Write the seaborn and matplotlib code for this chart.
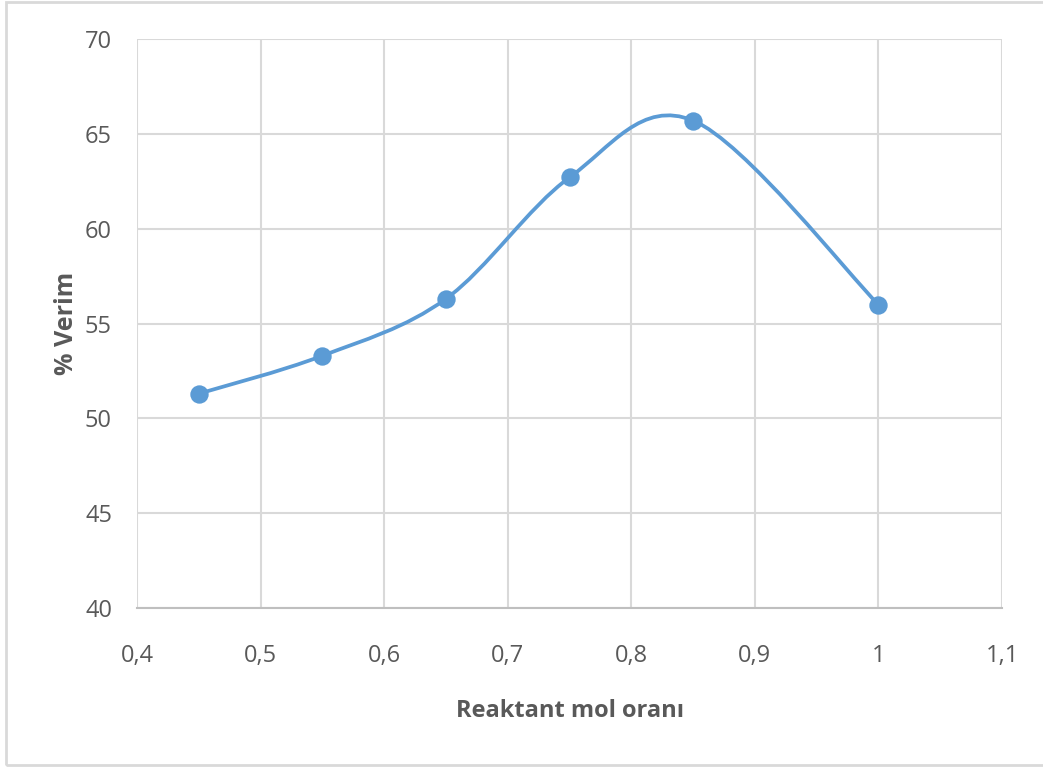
import numpy as np
import matplotlib
matplotlib.use("Agg")
import matplotlib.pyplot as plt
from matplotlib.path import Path
from matplotlib.patches import PathPatch, Rectangle
import seaborn as sns

# data
mol_ratio = [0.45, 0.55, 0.65, 0.75, 0.85, 1.0]
yield_pct = [51.3, 53.3, 56.3, 62.7, 65.7, 56.0]

x_ticks = [0.4, 0.5, 0.6, 0.7, 0.8, 0.9, 1.0, 1.1]
x_labels = ["0,4", "0,5", "0,6", "0,7", "0,8", "0,9", "1", "1,1"]
y_ticks = [40, 45, 50, 55, 60, 65, 70]

blue = "#5B9BD5"
grid = "#D9D9D9"
text = "#595959"

sns.set_theme(style="white")
plt.rcParams["font.family"] = ["Liberation Sans Narrow", "Open Sans", "DejaVu Sans"]

fig = plt.figure(figsize=(10.43, 7.67), dpi=100)
ax = fig.add_axes([137 / 1043, 1 - 608 / 767, (1002 - 137) / 1043, (608 - 39) / 767])

# chart area border (Excel style)
fig.patches.append(Rectangle((6 / 1043, 2 / 767), 1.2, 1 - 4 / 767, transform=fig.transFigure,
                             fill=False, edgecolor=grid, linewidth=2))

# Excel-like smoothed line: Catmull-Rom converted to cubic Bezier segments
pts = np.column_stack([mol_ratio, yield_pct])
padded = np.vstack([pts[0], pts, pts[-1]])
verts = [tuple(pts[0])]
codes = [Path.MOVETO]
for i in range(len(pts) - 1):
    p0, p1, p2, p3 = padded[i], padded[i + 1], padded[i + 2], padded[i + 3]
    c1 = p1 + (p2 - p0) / 6
    c2 = p2 - (p3 - p1) / 6
    verts += [tuple(c1), tuple(c2), tuple(p2)]
    codes += [Path.CURVE4] * 3
ax.add_patch(PathPatch(Path(verts, codes), facecolor="none", edgecolor=blue, linewidth=2.7,
                       capstyle="round", zorder=3))

sns.scatterplot(x=mol_ratio, y=yield_pct, ax=ax, color=blue, s=175, edgecolor=blue,
                linewidth=0, zorder=4)

ax.set_xlim(0.4, 1.1)
ax.set_ylim(40, 70)
ax.set_xticks(x_ticks)
ax.set_xticklabels(x_labels)
ax.set_yticks(y_ticks)
ax.grid(True, color=grid, linewidth=1.5)
ax.set_axisbelow(True)
for s in ["top", "right", "left"]:
    ax.spines[s].set_visible(False)
ax.spines["bottom"].set_color("#BFBFBF")
ax.spines["bottom"].set_linewidth(1.5)
ax.tick_params(axis="both", length=0, labelsize=17, colors=text)
ax.tick_params(axis="x", pad=26)
ax.tick_params(axis="y", pad=18)

ax.set_xlabel("Reaktant mol oranı", fontsize=17, fontweight="bold", color=text, labelpad=22)
ax.set_ylabel("% Verim", fontsize=18, fontweight="bold", color=text, labelpad=4)

fig.savefig("out.png", dpi=100, facecolor="white")
